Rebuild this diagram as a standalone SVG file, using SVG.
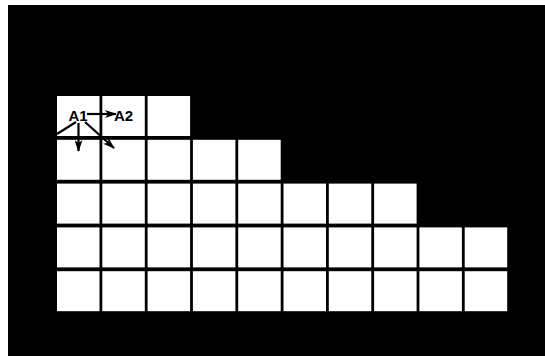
<svg xmlns="http://www.w3.org/2000/svg" width="545" height="356" viewBox="0 0 545 356">
<style>
.cell{fill:#fff}
.lbl{font-family:"Liberation Sans",Arial,sans-serif;font-weight:bold;font-size:15px;fill:#000}
.con{stroke:#000;stroke-width:2.2;fill:none}
</style>
<defs>
<marker id="ah" viewBox="0 0 12 8" refX="11" refY="4" markerWidth="12" markerHeight="8" markerUnits="userSpaceOnUse" orient="auto">
<path d="M0,0 L12,4 L0,8 L3,4 Z" fill="#000"/>
</marker>
</defs>
<rect x="0" y="0" width="545" height="356" fill="#fff"/>
<rect x="8" y="5" width="537" height="351" fill="#000"/>
<g id="row1">
<rect id="c1-1" class="cell" x="57" y="96" width="42.5" height="40"/>
<rect id="c1-2" class="cell" x="102.3" y="96" width="42.5" height="40"/>
<rect id="c1-3" class="cell" x="147.6" y="96" width="42.5" height="40"/>
</g>
<g id="row2">
<rect id="c2-1" class="cell" x="57" y="139.8" width="42.5" height="40"/>
<rect id="c2-2" class="cell" x="102.3" y="139.8" width="42.5" height="40"/>
<rect id="c2-3" class="cell" x="147.6" y="139.8" width="42.5" height="40"/>
<rect id="c2-4" class="cell" x="192.9" y="139.8" width="42.5" height="40"/>
<rect id="c2-5" class="cell" x="238.2" y="139.8" width="42.5" height="40"/>
</g>
<g id="row3">
<rect id="c3-1" class="cell" x="57" y="183.6" width="42.5" height="40"/>
<rect id="c3-2" class="cell" x="102.3" y="183.6" width="42.5" height="40"/>
<rect id="c3-3" class="cell" x="147.6" y="183.6" width="42.5" height="40"/>
<rect id="c3-4" class="cell" x="192.9" y="183.6" width="42.5" height="40"/>
<rect id="c3-5" class="cell" x="238.2" y="183.6" width="42.5" height="40"/>
<rect id="c3-6" class="cell" x="283.5" y="183.6" width="42.5" height="40"/>
<rect id="c3-7" class="cell" x="328.8" y="183.6" width="42.5" height="40"/>
<rect id="c3-8" class="cell" x="374.1" y="183.6" width="42.5" height="40"/>
</g>
<g id="row4">
<rect id="c4-1" class="cell" x="57" y="227.4" width="42.5" height="40"/>
<rect id="c4-2" class="cell" x="102.3" y="227.4" width="42.5" height="40"/>
<rect id="c4-3" class="cell" x="147.6" y="227.4" width="42.5" height="40"/>
<rect id="c4-4" class="cell" x="192.9" y="227.4" width="42.5" height="40"/>
<rect id="c4-5" class="cell" x="238.2" y="227.4" width="42.5" height="40"/>
<rect id="c4-6" class="cell" x="283.5" y="227.4" width="42.5" height="40"/>
<rect id="c4-7" class="cell" x="328.8" y="227.4" width="42.5" height="40"/>
<rect id="c4-8" class="cell" x="374.1" y="227.4" width="42.5" height="40"/>
<rect id="c4-9" class="cell" x="419.4" y="227.4" width="42.5" height="40"/>
<rect id="c4-10" class="cell" x="464.7" y="227.4" width="42.5" height="40"/>
</g>
<g id="row5">
<rect id="c5-1" class="cell" x="57" y="271.2" width="42.5" height="40"/>
<rect id="c5-2" class="cell" x="102.3" y="271.2" width="42.5" height="40"/>
<rect id="c5-3" class="cell" x="147.6" y="271.2" width="42.5" height="40"/>
<rect id="c5-4" class="cell" x="192.9" y="271.2" width="42.5" height="40"/>
<rect id="c5-5" class="cell" x="238.2" y="271.2" width="42.5" height="40"/>
<rect id="c5-6" class="cell" x="283.5" y="271.2" width="42.5" height="40"/>
<rect id="c5-7" class="cell" x="328.8" y="271.2" width="42.5" height="40"/>
<rect id="c5-8" class="cell" x="374.1" y="271.2" width="42.5" height="40"/>
<rect id="c5-9" class="cell" x="419.4" y="271.2" width="42.5" height="40"/>
<rect id="c5-10" class="cell" x="464.7" y="271.2" width="42.5" height="40"/>
</g>
<g id="A1"><text class="lbl" x="68.5" y="121">A1</text></g>
<g id="A2"><text class="lbl" x="114" y="121">A2</text></g>
<g id="connectors">
<line class="con" x1="87" y1="114" x2="116" y2="114" marker-end="url(#ah)"/>
<line class="con" x1="76" y1="122" x2="57" y2="134"/>
<line class="con" x1="78.5" y1="123" x2="78.5" y2="151" marker-end="url(#ah)"/>
<line class="con" x1="85" y1="122" x2="114" y2="148" marker-end="url(#ah)"/>
</g>
</svg>
